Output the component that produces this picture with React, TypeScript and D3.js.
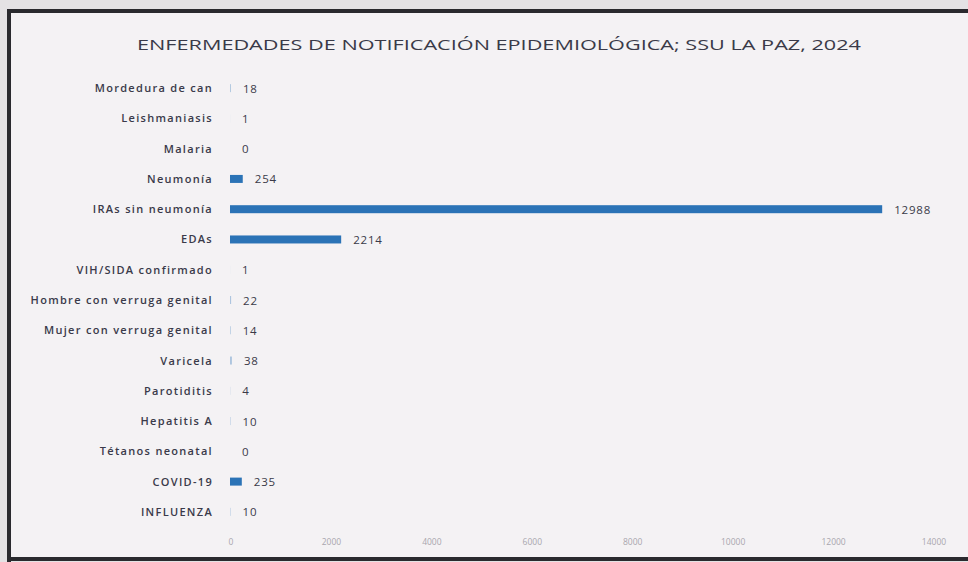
import React from "react";
import * as d3 from "d3";

const categories = [
  "Mordedura de can",
  "Leishmaniasis",
  "Malaria",
  "Neumonía",
  "IRAs sin neumonía",
  "EDAs",
  "VIH/SIDA confirmado",
  "Hombre con verruga genital",
  "Mujer con verruga genital",
  "Varicela",
  "Parotiditis",
  "Hepatitis A",
  "Tétanos neonatal",
  "COVID-19",
  "INFLUENZA",
];
const values = [18, 1, 0, 254, 12988, 2214, 1, 22, 14, 38, 4, 10, 0, 235, 10];
const ticks = [0, 2000, 4000, 6000, 8000, 10000, 12000, 14000];
const title = "ENFERMEDADES DE NOTIFICACIÓN EPIDEMIOLÓGICA; SSU LA PAZ, 2024";

export default function App() {
  const W = 968;
  const H = 562;
  const x = d3.scaleLinear().domain([0, 14000]).range([230, 933]);
  const y = d3.scaleBand<string>().domain(categories).range([73, 527]).padding(0);
  const barH = 8;
  const font = "'Open Sans', 'Liberation Sans', sans-serif";
  return (
    <div style={{ position: "absolute", left: 0, top: 0 }}>
      <svg width={W} height={H} style={{ display: "block" }}>
        <rect x={0} y={0} width={W} height={H} fill="#e4e2e4" />
        <rect x={9} y={11} width={W} height={547} fill="#f4f2f4" />
        <line x1={9} y1={11} x2={W} y2={11} stroke="#2a2a2e" strokeWidth={4} />
        <line x1={9} y1={9} x2={9} y2={H} stroke="#2a2a2e" strokeWidth={4} />
        <line x1={9} y1={559} x2={W} y2={559} stroke="#2a2a2e" strokeWidth={4} />
        <text
          x={499}
          y={50}
          textAnchor="middle"
          fontFamily={font}
          fontSize={14.5}
          fontWeight={500}
          fill="#3a3a48"
          textLength={724}
          lengthAdjust="spacingAndGlyphs"
        >
          {title}
        </text>
        {categories.map((c, i) => {
          const cy = (y(c) as number) + y.bandwidth() / 2;
          const v = values[i];
          const w = x(v) - x(0);
          return (
            <g key={c}>
              <text
                x={213}
                y={cy + 4}
                textAnchor="end"
                fontFamily={font}
                fontSize={11}
                fontWeight={600}
                letterSpacing={1.3}
                fill="#3a3a4a"
              >
                {c}
              </text>
              {w > 0 && (
                <rect
                  x={x(0)}
                  y={cy - barH / 2}
                  width={w}
                  height={barH}
                  fill="#2b73b6"
                  opacity={w > 3 ? 1 : 0.35}
                />
              )}
              <text
                x={x(0) + Math.max(w, 0) + 12}
                y={cy + 4.5}
                fontFamily={font}
                fontSize={11.5}
                fontWeight={500}
                letterSpacing={0.8}
                fill="#3a3a48"
              >
                {v}
              </text>
            </g>
          );
        })}
        {ticks.map((t) => (
          <text
            key={t}
            x={x(t) + 1}
            y={545}
            textAnchor="middle"
            fontFamily={font}
            fontSize={8.5}
            fill="#a9a6ae"
          >
            {t}
          </text>
        ))}
      </svg>
    </div>
  );
}
